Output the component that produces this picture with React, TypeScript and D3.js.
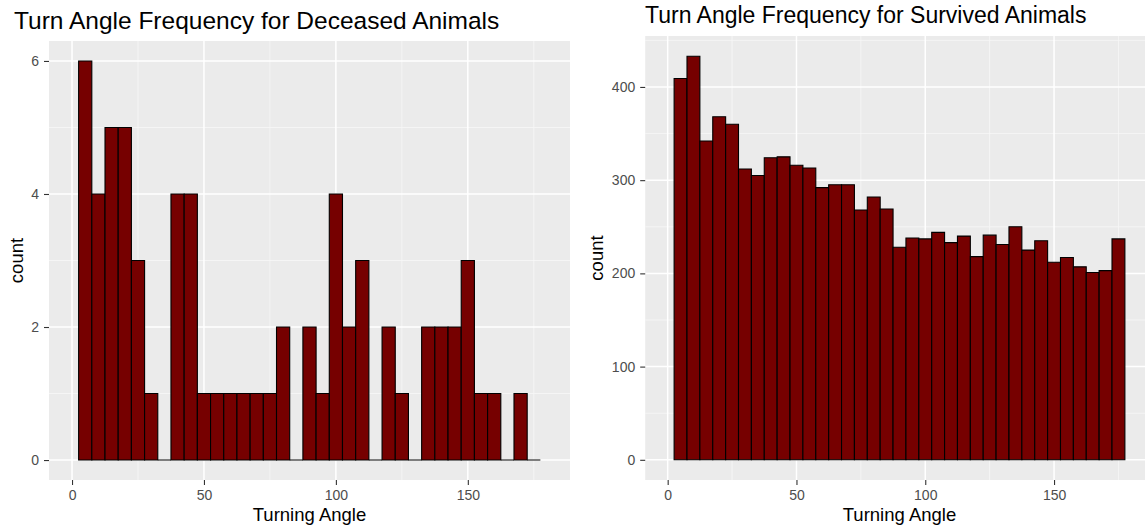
import React, { useEffect, useRef } from "react";
import * as d3 from "d3";

// bin centres in degrees (binwidth 5)
const angleBins = [
  5, 10, 15, 20, 25, 30, 35, 40, 45, 50, 55, 60, 65, 70, 75, 80, 85, 90, 95,
  100, 105, 110, 115, 120, 125, 130, 135, 140, 145, 150, 155, 160, 165, 170, 175,
];
const deceasedCounts = [
  6, 4, 5, 5, 3, 1, 0, 4, 4, 1, 1, 1, 1, 1, 1, 2, 0, 2, 1, 4, 2, 3, 0, 2, 1, 0,
  2, 2, 2, 3, 1, 1, 0, 1, 0,
];
const survivedCounts = [
  409, 433, 342, 368, 360, 312, 305, 324, 325, 316, 313, 292, 295, 295, 268,
  282, 269, 228, 238, 237, 244, 233, 240, 218, 241, 231, 250, 225, 235, 212,
  217, 207, 201, 203, 237,
];
// range of the raw turning angles (scale is trained on it)
const angleRange = [0.25, 179.75];
const binWidth = 5;

const xTicks = [0, 50, 100, 150];
const xMinorTicks = [25, 75, 125, 175];
const deceasedTicks = [0, 2, 4, 6];
const deceasedMinor = [1, 3, 5];
const survivedTicks = [0, 100, 200, 300, 400];
const survivedMinor = [50, 150, 250, 350, 450];

const FONT = "'Liberation Sans', Arial, Helvetica, sans-serif";

type Props = {
  title: string;
  counts: number[];
  yTicks: number[];
  yMinor: number[];
  box: { left: number; right: number; top: number; bottom: number };
  titleX: number;
  titleY: number;
  titleSize: number;
  yTitleX: number;
};

function Histogram({ title, counts, yTicks, yMinor, box, titleX, titleY, titleSize, yTitleX }: Props) {
  const gRef = useRef<SVGGElement>(null);

  useEffect(() => {
    const g = d3.select(gRef.current);
    g.selectAll("*").remove();

    const { left, right, top, bottom } = box;

    // scales (ggplot-like 5% expansion)
    const span = angleRange[1] - angleRange[0];
    const xScale = d3
      .scaleLinear()
      .domain([angleRange[0] - span * 0.05, angleRange[1] + span * 0.05])
      .range([left, right]);

    const yMax = d3.max(counts) as number;
    const yScale = d3
      .scaleLinear()
      .domain([-yMax * 0.05, yMax * 1.05])
      .range([bottom, top]);

    // panel
    g.append("rect")
      .attr("x", left)
      .attr("y", top)
      .attr("width", right - left)
      .attr("height", bottom - top)
      .attr("fill", "#EBEBEB");

    // minor grid
    g.selectAll(".vminor")
      .data(xMinorTicks)
      .join("line")
      .attr("class", "vminor")
      .attr("x1", (d) => xScale(d))
      .attr("x2", (d) => xScale(d))
      .attr("y1", top)
      .attr("y2", bottom)
      .attr("stroke", "#F7F7F7")
      .attr("stroke-width", 0.8);
    g.selectAll(".hminor")
      .data(yMinor)
      .join("line")
      .attr("class", "hminor")
      .attr("x1", left)
      .attr("x2", right)
      .attr("y1", (d) => yScale(d))
      .attr("y2", (d) => yScale(d))
      .attr("stroke", "#F7F7F7")
      .attr("stroke-width", 0.8);

    // major grid
    g.selectAll(".vmajor")
      .data(xTicks)
      .join("line")
      .attr("class", "vmajor")
      .attr("x1", (d) => xScale(d))
      .attr("x2", (d) => xScale(d))
      .attr("y1", top)
      .attr("y2", bottom)
      .attr("stroke", "#FFFFFF")
      .attr("stroke-width", 1.5);
    g.selectAll(".hmajor")
      .data(yTicks)
      .join("line")
      .attr("class", "hmajor")
      .attr("x1", left)
      .attr("x2", right)
      .attr("y1", (d) => yScale(d))
      .attr("y2", (d) => yScale(d))
      .attr("stroke", "#FFFFFF")
      .attr("stroke-width", 1.5);

    // bars (paths so that empty bins still show as a line)
    const bins = angleBins.map((c, i) => ({ center: c, count: counts[i] }));
    g.selectAll(".bar")
      .data(bins)
      .join("path")
      .attr("class", "bar")
      .attr("d", (b) => {
        const x0 = xScale(b.center - binWidth / 2);
        const x1 = xScale(b.center + binWidth / 2);
        const y0 = yScale(0);
        const y1 = yScale(b.count);
        return `M${x0},${y0}H${x1}V${y1}H${x0}Z`;
      })
      .attr("fill", "#760000")
      .attr("stroke", "#000000")
      .attr("stroke-width", 1.1);

    // axes
    const xAxis = d3
      .axisBottom(xScale)
      .tickValues(xTicks)
      .tickFormat(d3.format("d"))
      .tickSize(5)
      .tickPadding(5);
    const xg = g.append("g").attr("transform", `translate(0,${bottom})`).call(xAxis);
    const yAxis = d3
      .axisLeft(yScale)
      .tickValues(yTicks)
      .tickFormat(d3.format("d"))
      .tickSize(5)
      .tickPadding(5);
    const yg = g.append("g").attr("transform", `translate(${left},0)`).call(yAxis);

    [xg, yg].forEach((ax) => {
      ax.select(".domain").remove();
      ax.selectAll(".tick line").attr("stroke", "#333333").attr("stroke-width", 1.1);
      ax.selectAll(".tick text")
        .attr("fill", "#4D4D4D")
        .style("font-size", "14px")
        .style("font-family", FONT);
    });

    // titles
    g.append("text")
      .attr("x", titleX)
      .attr("y", titleY)
      .attr("fill", "#000000")
      .style("font-size", `${titleSize}px`)
      .style("font-family", FONT)
      .text(title);

    g.append("text")
      .attr("x", (left + right) / 2)
      .attr("y", 521)
      .attr("text-anchor", "middle")
      .attr("fill", "#000000")
      .style("font-size", "18.5px")
      .style("font-family", FONT)
      .text("Turning Angle");

    g.append("text")
      .attr("transform", `translate(${yTitleX},${(top + bottom) / 2}) rotate(-90)`)
      .attr("text-anchor", "middle")
      .attr("fill", "#000000")
      .style("font-size", "18.5px")
      .style("font-family", FONT)
      .text("count");
  }, [title, counts, yTicks, yMinor, box, titleX, titleY, titleSize, yTitleX]);

  return <g ref={gRef} />;
}

const leftBox = { left: 49, right: 570, top: 41, bottom: 480 };
const rightBox = { left: 645.2, right: 1153.8, top: 36, bottom: 480 };

export default function App() {
  return (
    <svg
      width={1145}
      height={529}
      style={{ position: "absolute", left: 0, top: 0, background: "#FFFFFF" }}
    >
      <Histogram
        title="Turn Angle Frequency for Deceased Animals"
        counts={deceasedCounts}
        yTicks={deceasedTicks}
        yMinor={deceasedMinor}
        box={leftBox}
        titleX={14}
        titleY={29}
        titleSize={24.5}
        yTitleX={23}
      />
      <Histogram
        title="Turn Angle Frequency for Survived Animals"
        counts={survivedCounts}
        yTicks={survivedTicks}
        yMinor={survivedMinor}
        box={rightBox}
        titleX={645}
        titleY={23}
        titleSize={23}
        yTitleX={603}
      />
    </svg>
  );
}
